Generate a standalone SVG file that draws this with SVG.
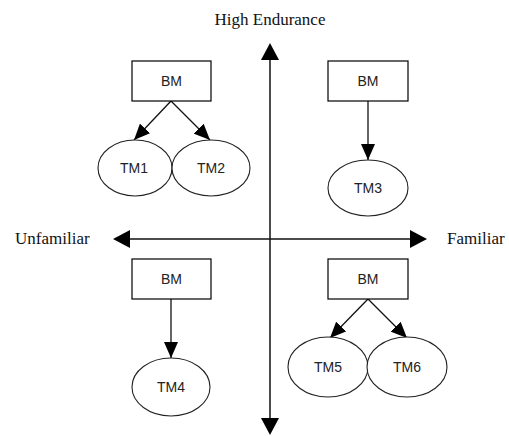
<svg xmlns="http://www.w3.org/2000/svg" width="509" height="436" viewBox="0 0 509 436">
  <style>
    .box { fill: #ffffff; stroke: #000000; stroke-width: 1.2; }
    .oval { fill: #ffffff; stroke: #222222; stroke-width: 1.1; }
    .lbl { font-family: "Liberation Sans", Arial, sans-serif; font-size: 14px; fill: #222222; text-anchor: middle; }
    .axis-lbl { font-family: "Liberation Serif", "Times New Roman", serif; font-size: 17px; fill: #111111; }
    .edge { stroke: #111111; stroke-width: 1.3; fill: none; marker-end: url(#tip); }
    .axis { stroke: #111111; stroke-width: 1.5; fill: none; }
    .head { fill: #000000; }
  </style>
  <defs>
    <marker id="tip" viewBox="0 0 16 14" refX="16" refY="7" markerWidth="16" markerHeight="14" markerUnits="userSpaceOnUse" orient="auto">
      <path d="M0,0 L16,7 L0,14 Z" fill="#000000"/>
    </marker>
  </defs>

  <rect width="509" height="436" fill="#ffffff"/>

  <!-- axes -->
  <g id="axes">
    <line class="axis" x1="270" y1="58" x2="270" y2="420"/>
    <path class="head" d="M270,43 L261,60 L279,60 Z"/>
    <path class="head" d="M270,435 L261,418 L279,418 Z"/>
    <line class="axis" x1="128" y1="239" x2="412" y2="239"/>
    <path class="head" d="M113,239 L130,230 L130,248 Z"/>
    <path class="head" d="M427,239 L410,230 L410,248 Z"/>
    <text class="axis-lbl" x="270" y="25" text-anchor="middle">High Endurance</text>
    <text class="axis-lbl" x="15" y="244">Unfamiliar</text>
    <text class="axis-lbl" x="447" y="244">Familiar</text>
  </g>

  <!-- connectors -->
  <g id="connectors">
    <line class="edge" x1="171" y1="101" x2="134" y2="140"/>
    <line class="edge" x1="171" y1="101" x2="210" y2="140"/>
    <line class="edge" x1="368" y1="101" x2="368" y2="160"/>
    <line class="edge" x1="171" y1="299" x2="171" y2="358"/>
    <line class="edge" x1="368" y1="299" x2="330" y2="338"/>
    <line class="edge" x1="368" y1="299" x2="407" y2="338"/>
  </g>

  <!-- upper-left quadrant -->
  <g id="bm1"><rect class="box" x="132" y="61" width="79" height="40"/><text class="lbl" x="171.5" y="86">BM</text></g>
  <g id="tm1"><ellipse class="oval" cx="135" cy="168" rx="37" ry="28"/><text class="lbl" x="134" y="173">TM1</text></g>
  <g id="tm2"><ellipse class="oval" cx="211" cy="168" rx="39" ry="28"/><text class="lbl" x="211" y="173">TM2</text></g>

  <!-- upper-right quadrant -->
  <g id="bm2"><rect class="box" x="328" y="61" width="80" height="40"/><text class="lbl" x="368" y="86">BM</text></g>
  <g id="tm3"><ellipse class="oval" cx="368" cy="188" rx="40" ry="28"/><text class="lbl" x="368" y="193">TM3</text></g>

  <!-- lower-left quadrant -->
  <g id="bm3"><rect class="box" x="132" y="259" width="79" height="40"/><text class="lbl" x="171.5" y="284">BM</text></g>
  <g id="tm4"><ellipse class="oval" cx="171" cy="387" rx="39" ry="29"/><text class="lbl" x="171" y="392">TM4</text></g>

  <!-- lower-right quadrant -->
  <g id="bm4"><rect class="box" x="328" y="259" width="80" height="40"/><text class="lbl" x="368" y="284">BM</text></g>
  <g id="tm5"><ellipse class="oval" cx="328" cy="367" rx="40" ry="30"/><text class="lbl" x="328" y="372">TM5</text></g>
  <g id="tm6"><ellipse class="oval" cx="407" cy="367" rx="40" ry="30"/><text class="lbl" x="407" y="372">TM6</text></g>
</svg>
